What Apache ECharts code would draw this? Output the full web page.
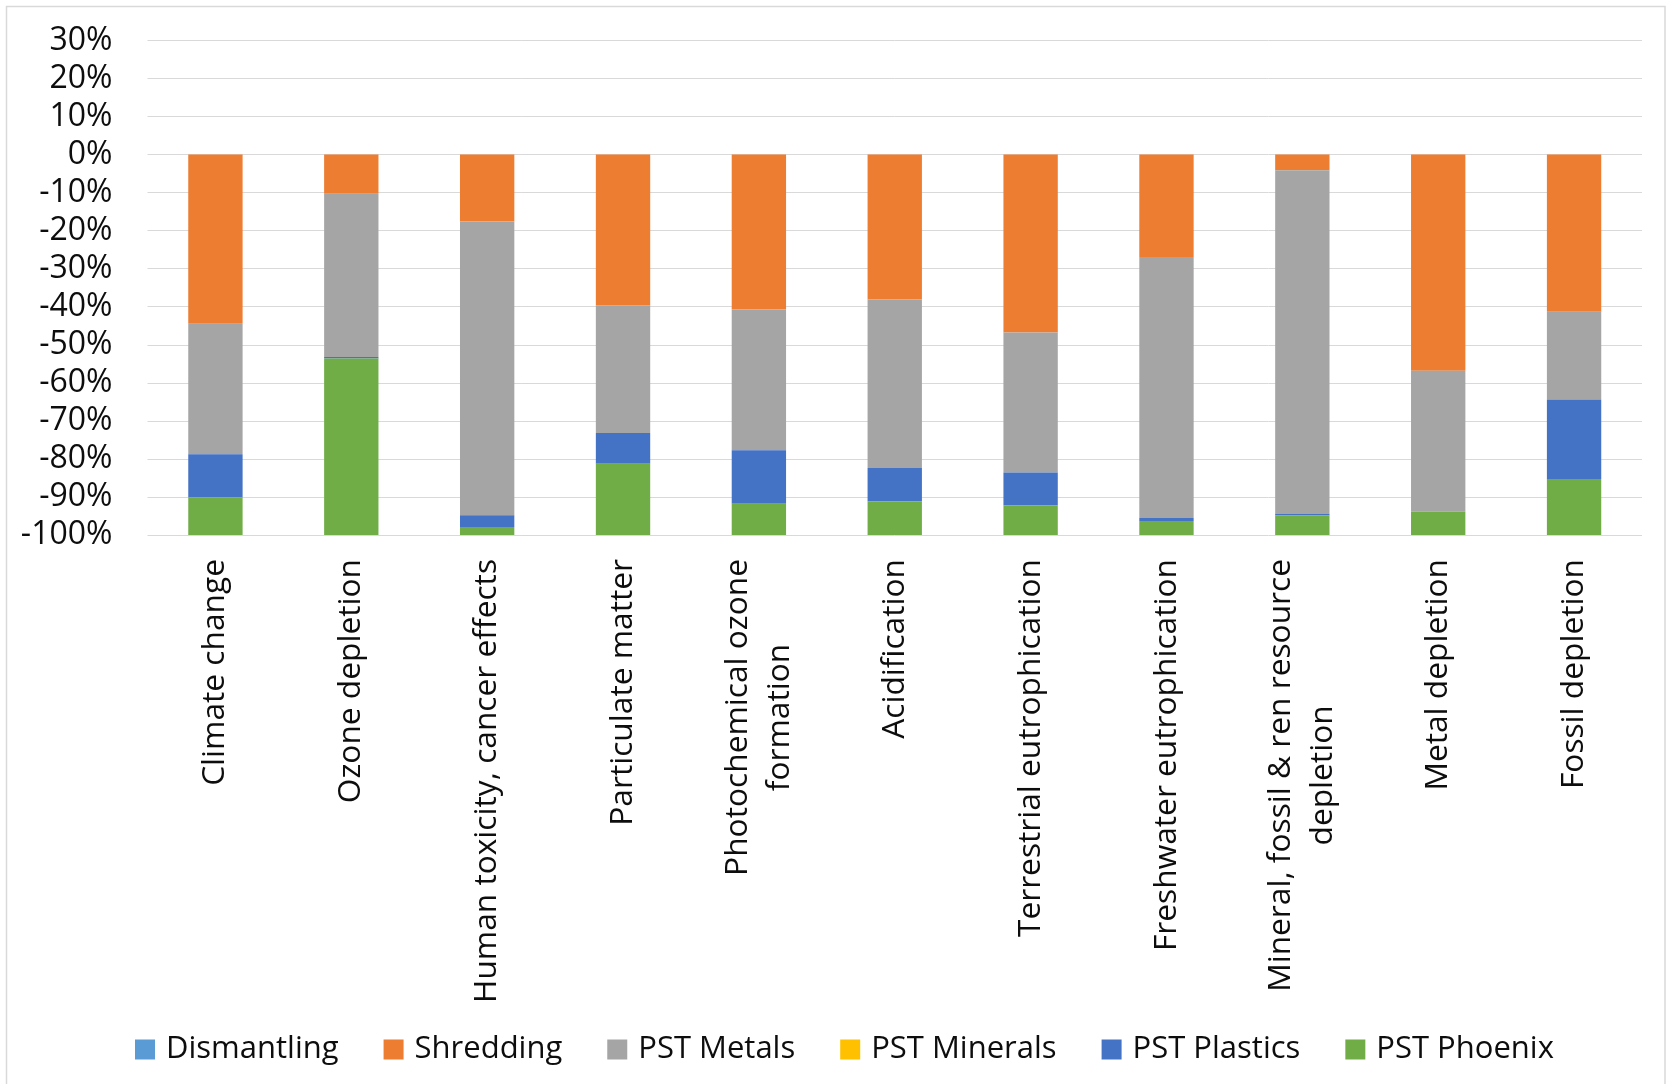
<!DOCTYPE html>
<html>
<head>
<meta charset="utf-8">
<title>Impact contributions by process stage</title>
<script src="https://cdn.jsdelivr.net/npm/echarts@6/dist/echarts.min.js"></script>
<style>
  html, body { margin: 0; padding: 0; background: #ffffff; }
  #chart { width: 1667px; height: 1084px; }
</style>
</head>
<body>
<div id="chart"></div>
<script>
// Impact categories (a "\n" marks where a long name wraps)
const categories = [
  'Climate change',
  'Ozone depletion',
  'Human toxicity, cancer effects',
  'Particulate matter',
  'Photochemical ozone\nformation',
  'Acidification',
  'Terrestrial eutrophication',
  'Freshwater eutrophication',
  'Mineral, fossil & ren resource\ndepletion',
  'Metal depletion',
  'Fossil depletion'
];

// Contribution of each stage, in percent
const dismantling = [0, 0, 0, 0, 0, 0, 0, 0, 0, 0, 0];
const shredding   = [-44.5, -10.3, -17.6, -39.6, -40.7, -38.1, -46.8, -26.9, -4.1, -56.8, -41.3];
const pstMetals   = [-34.3, -42.9, -77.2, -33.6, -37.0, -44.3, -36.8, -68.6, -90.4, -37.1, -23.1];
const pstMinerals = [0, 0, 0, 0, 0, 0, 0, 0, 0, 0, 0];
const pstPlastics = [-11.3, -0.4, -3.1, -8.1, -14.1, -8.7, -8.6, -0.8, -0.3, 0, -20.9];
const pstPhoenix  = [-9.9, -46.4, -2.1, -18.7, -8.2, -8.9, -7.8, -3.7, -5.2, -6.1, -14.7];

// Value axis ticks
const yMin = -100;
const yMax = 30;
const yStep = 10;

const FONT = 'Open Sans';
const TEXT = '#0d0d0d';

const seriesDefs = [
  { name: 'Dismantling', data: dismantling, color: '#5B9BD5' },
  { name: 'Shredding',   data: shredding,   color: '#ED7D31' },
  { name: 'PST Metals',  data: pstMetals,   color: '#A5A5A5' },
  { name: 'PST Minerals',data: pstMinerals, color: '#FFC000' },
  { name: 'PST Plastics',data: pstPlastics, color: '#4472C4' },
  { name: 'PST Phoenix', data: pstPhoenix,  color: '#70AD47' }
];

const chart = echarts.init(document.getElementById('chart'), null, { renderer: 'canvas' });

chart.setOption({
  animation: false,
  backgroundColor: '#ffffff',
  textStyle: { fontFamily: FONT },
  graphic: [{
    type: 'rect',
    shape: { x: 6.5, y: 6.5, width: 1658.5, height: 1100 },
    style: { fill: 'none', stroke: '#d9d9d9', lineWidth: 1.5 },
    silent: true,
    z: -10
  }],
  grid: { left: 147.5, right: 25, top: 40.4, bottom: 549, containLabel: false },
  legend: {
    left: 130,
    top: 1029,
    itemWidth: 20,
    itemHeight: 20,
    itemGap: 45,
    icon: 'rect',
    textStyle: { fontFamily: FONT, fontSize: 31, color: TEXT, padding: [0, 0, 0, 6] },
    data: seriesDefs.map(s => s.name)
  },
  xAxis: {
    type: 'category',
    data: categories,
    axisLine: { show: false },
    axisTick: { show: false },
    axisLabel: {
      interval: 0,
      rotate: 90,
      margin: 24,
      fontFamily: FONT,
      fontSize: 31.7,
      lineHeight: 42,
      color: TEXT,
      formatter: v => v.split('\n').map(s => '{c|' + s + '}').join('\n'),
      rich: {
        c: { align: 'center', fontFamily: FONT, fontSize: 31.7, lineHeight: 42, color: TEXT }
      }
    }
  },
  yAxis: {
    type: 'value',
    min: yMin,
    max: yMax,
    interval: yStep,
    axisLine: { show: false },
    axisTick: { show: false },
    splitLine: { lineStyle: { color: '#d9d9d9', width: 1 } },
    axisLabel: {
      margin: 35,
      fontFamily: FONT,
      fontSize: 32,
      color: TEXT,
      formatter: v => v + '%'
    }
  },
  series: seriesDefs.map(s => ({
    name: s.name,
    type: 'bar',
    stack: 'total',
    barWidth: '40%',
    data: s.data,
    itemStyle: { color: s.color }
  }))
});
</script>
</body>
</html>
